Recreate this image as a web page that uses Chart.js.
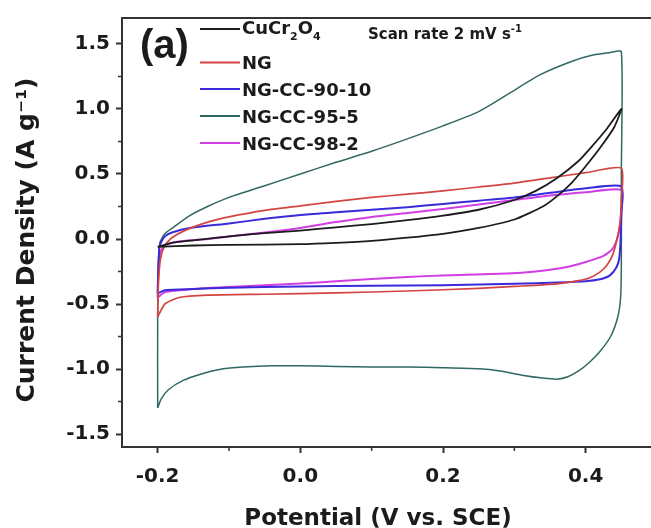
<!DOCTYPE html>
<html>
<head>
<meta charset="utf-8">
<script src="https://cdn.jsdelivr.net/npm/chart.js@4.4.1/dist/chart.umd.min.js"></script>
<style>
  html, body { margin: 0; padding: 0; background: #fff; overflow: hidden; }
  #wrap { width: 651px; height: 528px; overflow: hidden; }
</style>
</head>
<body>
<div id="wrap"><canvas id="cv" width="660" height="528"></canvas></div>
<script>
// Cyclic voltammograms, scan rate 2 mV/s.
// Each loop: -0.2 V up to 0.45 V (anodic branch), then back down to -0.2 V.
const cuCrV = [-0.2, -0.18, -0.15, -0.1, -0.05, 0, 0.05, 0.1, 0.15, 0.2, 0.25, 0.3, 0.33, 0.36, 0.39, 0.41, 0.43, 0.45,
  0.44, 0.42, 0.4, 0.38, 0.36, 0.34, 0.3, 0.25, 0.2, 0.15, 0.1, 0.05, 0, -0.1, -0.15, -0.2];
const cuCrI = [-0.06, -0.03, -0.01, 0.02, 0.045, 0.065, 0.09, 0.115, 0.145, 0.18, 0.225, 0.3, 0.37, 0.47, 0.6, 0.72, 0.85, 1.0,
  0.86, 0.7, 0.56, 0.43, 0.33, 0.25, 0.15, 0.085, 0.04, 0.01, -0.015, -0.03, -0.04, -0.045, -0.05, -0.06];

const ngV = [-0.2, -0.199, -0.196, -0.19, -0.18, -0.16, -0.13, -0.1, -0.05, 0, 0.05, 0.1, 0.15, 0.2, 0.25, 0.3, 0.35, 0.4, 0.45,
  0.45, 0.448, 0.444, 0.438, 0.43, 0.42, 0.405, 0.39, 0.36, 0.3, 0.25, 0.15, 0.05, -0.05, -0.13, -0.17, -0.19, -0.2];
const ngI = [-0.6, -0.35, -0.15, -0.05, 0.01, 0.07, 0.13, 0.17, 0.22, 0.255, 0.29, 0.32, 0.345, 0.37, 0.4, 0.43, 0.47, 0.51, 0.545,
  0.3, 0.12, 0.0, -0.12, -0.2, -0.255, -0.3, -0.32, -0.345, -0.365, -0.38, -0.4, -0.415, -0.425, -0.432, -0.45, -0.5, -0.6];

const cc9010V = [-0.2, -0.199, -0.197, -0.19, -0.18, -0.155, -0.1, -0.05, 0, 0.05, 0.1, 0.15, 0.2, 0.25, 0.3, 0.35, 0.4, 0.45,
  0.45, 0.449, 0.447, 0.443, 0.434, 0.42, 0.4, 0.36, 0.3, 0.2, 0.1, 0, -0.1, -0.15, -0.19, -0.2];
const cc9010I = [-0.42, -0.2, -0.05, 0.02, 0.05, 0.085, 0.12, 0.155, 0.185, 0.205, 0.225, 0.245, 0.27, 0.295, 0.32, 0.355, 0.39, 0.405,
  0.2, 0.0, -0.15, -0.22, -0.28, -0.31, -0.325, -0.335, -0.345, -0.355, -0.36, -0.365, -0.375, -0.385, -0.395, -0.42];

const cc955V = [-0.2, -0.2, -0.199, -0.197, -0.19, -0.178, -0.155, -0.13, -0.1, -0.05, 0, 0.05, 0.1, 0.15, 0.2, 0.25, 0.29, 0.335, 0.38, 0.41, 0.435, 0.45,
  0.45, 0.45, 0.449, 0.445, 0.435, 0.42, 0.405, 0.39, 0.375, 0.36, 0.34, 0.313, 0.28, 0.25, 0.2, 0.15, 0.1, 0.05, 0, -0.04, -0.08, -0.11, -0.14, -0.165, -0.185, -0.195, -0.2];
const cc955I = [-1.3, -0.6, -0.2, -0.03, 0.04, 0.09, 0.18, 0.25, 0.32, 0.41, 0.5, 0.59, 0.675, 0.77, 0.87, 0.98, 1.11, 1.26, 1.365, 1.415, 1.435, 1.44,
  0.5, -0.2, -0.45, -0.6, -0.75, -0.865, -0.95, -1.015, -1.06, -1.078, -1.07, -1.05, -1.015, -0.998, -0.99, -0.985, -0.985, -0.98, -0.975, -0.975, -0.985, -1.0, -1.04, -1.09, -1.16, -1.23, -1.3];

const cc982V = [-0.2, -0.199, -0.196, -0.19, -0.17, -0.13, -0.1, -0.05, 0, 0.05, 0.1, 0.15, 0.2, 0.25, 0.3, 0.35, 0.4, 0.45,
  0.45, 0.448, 0.444, 0.437, 0.425, 0.4, 0.37, 0.33, 0.29, 0.2, 0.15, 0.05, 0, -0.1, -0.15, -0.19, -0.2];
const cc982I = [-0.45, -0.25, -0.1, -0.05, -0.02, 0.0, 0.02, 0.05, 0.085, 0.13, 0.17, 0.2, 0.23, 0.265, 0.3, 0.335, 0.36, 0.378,
  0.2, 0.1, 0.0, -0.08, -0.13, -0.177, -0.22, -0.25, -0.266, -0.28, -0.292, -0.325, -0.343, -0.37, -0.385, -0.41, -0.45];

const xTicks = [-0.2, 0.0, 0.2, 0.4];
const xMinorTicks = [-0.1, 0.1, 0.3];
const yTicks = [-1.5, -1.0, -0.5, 0.0, 0.5, 1.0, 1.5];
const yMinorTicks = [-1.25, -0.75, -0.25, 0.25, 0.75, 1.25];

const FONT = "'DejaVu Sans', sans-serif";
const axisColor = '#333';
const textColor = '#1b1b1b';

const series = [
  { name: 'CuCr2O4',     v: cuCrV,   i: cuCrI,   color: '#1c1c1c',            width: 1.8 },
  { name: 'NG',          v: ngV,     i: ngI,     color: 'rgb(212,68,66)',     width: 1.7 },
  { name: 'NG-CC-90-10', v: cc9010V, i: cc9010I, color: 'rgb(58,42,218)',     width: 2 },
  { name: 'NG-CC-95-5',  v: cc955V,  i: cc955I,  color: 'rgb(48,104,100)',    width: 1.5 },
  { name: 'NG-CC-98-2',  v: cc982V,  i: cc982I,  color: 'rgb(208,62,228)',    width: 2 }
];

function subText(ctx, parts, x, y) {
  // parts: [text, size, dy]
  parts.forEach(([t, size, dy]) => {
    ctx.font = 'bold ' + size + 'px ' + FONT;
    ctx.fillText(t, x, y + dy);
    x += ctx.measureText(t).width;
  });
}

// frame, minor ticks, panel tag, legend and axis titles
const decor = {
  id: 'decor',
  afterDraw(chart) {
    const ctx = chart.ctx;
    const a = chart.chartArea;
    const xs = chart.scales.x, ys = chart.scales.y;
    ctx.save();
    ctx.strokeStyle = axisColor;
    ctx.lineWidth = 2;
    ctx.beginPath();
    ctx.moveTo(a.left, a.top);
    ctx.lineTo(a.right, a.top);
    ctx.lineTo(a.right, a.bottom);
    ctx.stroke();

    ctx.lineWidth = 1.5;
    xMinorTicks.forEach(v => {
      const px = xs.getPixelForValue(v);
      ctx.beginPath(); ctx.moveTo(px, a.bottom); ctx.lineTo(px, a.bottom + 4); ctx.stroke();
    });
    yMinorTicks.forEach(v => {
      const py = ys.getPixelForValue(v);
      ctx.beginPath(); ctx.moveTo(a.left, py); ctx.lineTo(a.left - 4, py); ctx.stroke();
    });

    ctx.fillStyle = textColor;
    ctx.textBaseline = 'alphabetic';
    ctx.textAlign = 'left';
    ctx.font = "bold 40px 'Liberation Sans', Arial, sans-serif";
    ctx.fillText('(a)', 140, 58);

    // legend
    const rows = [29, 62.5, 89, 116, 143];
    series.forEach((s, k) => {
      const y = rows[k];
      ctx.strokeStyle = s.color;
      ctx.lineWidth = 2;
      ctx.beginPath(); ctx.moveTo(200, y); ctx.lineTo(240, y); ctx.stroke();
      ctx.fillStyle = textColor;
      if (k === 0) {
        subText(ctx, [['CuCr', 18, 0], ['2', 11, 6], ['O', 18, 0], ['4', 11, 6]], 242, y + 5);
      } else {
        ctx.font = 'bold 18px ' + FONT;
        ctx.fillText(s.name, 242, y + 6.7);
      }
    });
    subText(ctx, [['Scan rate 2 mV s', 15, 0], ['-1', 10, -7]], 368, 39);

    // axis titles
    ctx.font = 'bold 23px ' + FONT;
    ctx.textAlign = 'center';
    ctx.fillText('Potential (V vs. SCE)', 378, 525);
    ctx.translate(34, 240);
    ctx.rotate(-Math.PI / 2);
    ctx.font = 'bold 25px ' + FONT;
    ctx.fillText('Current Density (A g\u207B\u00B9)', 0, 0);
    ctx.restore();
  }
};

new Chart(document.getElementById('cv'), {
  type: 'scatter',
  data: {
    datasets: series.map(s => ({
      label: s.name,
      data: s.v.map((v, k) => ({ x: v, y: s.i[k] })),
      showLine: true,
      borderColor: s.color,
      borderWidth: s.width,
      pointRadius: 0,
      tension: 0.2,
      fill: false
    }))
  },
  options: {
    responsive: false,
    animation: false,
    layout: { padding: { top: 14, right: 3, left: 0, bottom: 0 } },
    plugins: { legend: { display: false }, tooltip: { enabled: false } },
    scales: {
      x: {
        type: 'linear',
        min: -0.25,
        max: 0.5,
        afterBuildTicks: s => { s.ticks = xTicks.map(v => ({ value: v })); },
        afterFit: s => { s.height = 81; },
        grid: { drawOnChartArea: false, drawTicks: true, tickLength: 6, tickWidth: 2, tickColor: axisColor },
        border: { color: axisColor, width: 2 },
        ticks: {
          color: textColor,
          font: { family: FONT, size: 20, weight: 'bold' },
          padding: 12,
          maxRotation: 0,
          callback: v => v.toFixed(1)
        }
      },
      y: {
        type: 'linear',
        min: -1.6,
        max: 1.7,
        afterBuildTicks: s => { s.ticks = yTicks.map(v => ({ value: v })); },
        afterFit: s => { s.width = 122; },
        grid: { drawOnChartArea: false, drawTicks: true, tickLength: 6, tickWidth: 2, tickColor: axisColor },
        border: { color: axisColor, width: 2 },
        ticks: {
          color: textColor,
          font: { family: FONT, size: 20, weight: 'bold' },
          padding: 6,
          callback: v => v.toFixed(1)
        }
      }
    }
  },
  plugins: [decor]
});
</script>
</body>
</html>
